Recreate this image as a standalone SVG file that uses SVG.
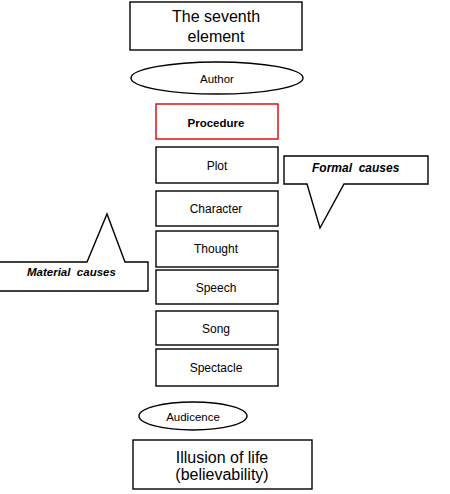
<svg xmlns="http://www.w3.org/2000/svg" width="450" height="494" viewBox="0 0 450 494">
<style>
.box{fill:#fff;stroke:#000;stroke-width:1.4}
.red{fill:#fff;stroke:#e00000;stroke-width:1.4}
.t{font-family:"Liberation Sans",Arial,sans-serif;fill:#000;text-anchor:middle}
.s{font-size:12px}
.b{font-size:16px}
.c{font-family:"Liberation Sans",Arial,sans-serif;font-weight:bold;font-style:italic;white-space:pre;fill:#000}
</style>
<rect width="450" height="494" fill="#fff"/>
<g id="seventh">
<rect class="box" x="130" y="2" width="172" height="48"/>
<text class="t b" x="216" y="22">The seventh</text>
<text class="t b" x="216" y="42">element</text>
</g>
<g id="author">
<ellipse class="box" cx="217" cy="78" rx="86" ry="16"/>
<text class="t" font-size="11.5" x="217" y="83">Author</text>
</g>
<g id="procedure">
<rect class="red" x="156" y="104" width="122" height="35"/>
<text class="t" font-size="11.5" font-weight="bold" x="216" y="127">Procedure</text>
</g>
<g id="plot">
<rect class="box" x="156" y="147" width="122" height="36"/>
<text class="t s" x="217" y="170">Plot</text>
</g>
<g id="character">
<rect class="box" x="156" y="191" width="122" height="35"/>
<text class="t s" x="216" y="213">Character</text>
</g>
<g id="thought">
<rect class="box" x="156" y="231" width="122" height="36"/>
<text class="t s" x="216" y="253">Thought</text>
</g>
<g id="speech">
<rect class="box" x="156" y="270" width="122" height="34"/>
<text class="t s" x="216" y="292">Speech</text>
</g>
<g id="song">
<rect class="box" x="156" y="311" width="122" height="34"/>
<text class="t s" x="216" y="333">Song</text>
</g>
<g id="spectacle">
<rect class="box" x="156" y="349" width="122" height="37"/>
<text class="t s" x="216" y="372">Spectacle</text>
</g>
<g id="audience">
<ellipse class="box" cx="193" cy="416" rx="54" ry="14"/>
<text class="t" font-size="11.5" x="193" y="421">Audicence</text>
</g>
<g id="illusion">
<rect class="box" x="133" y="440" width="179" height="49"/>
<text class="t b" x="222" y="463">Illusion of life</text>
<text class="t b" x="222" y="480">(believability)</text>
</g>
<g id="formal">
<path class="box" d="M284,156 H428 V184 H344 L320,228 L307,184 H284 Z"/>
<text class="c" font-size="12" x="312" y="172">Formal  causes</text>
</g>
<g id="material">
<path class="box" d="M-2,262 H87 L107,214 L125,262 H148 V291 H-2 Z"/>
<text class="c" font-size="11.5" x="27" y="276">Material  causes</text>
</g>
<g id="connectors"></g>
</svg>
